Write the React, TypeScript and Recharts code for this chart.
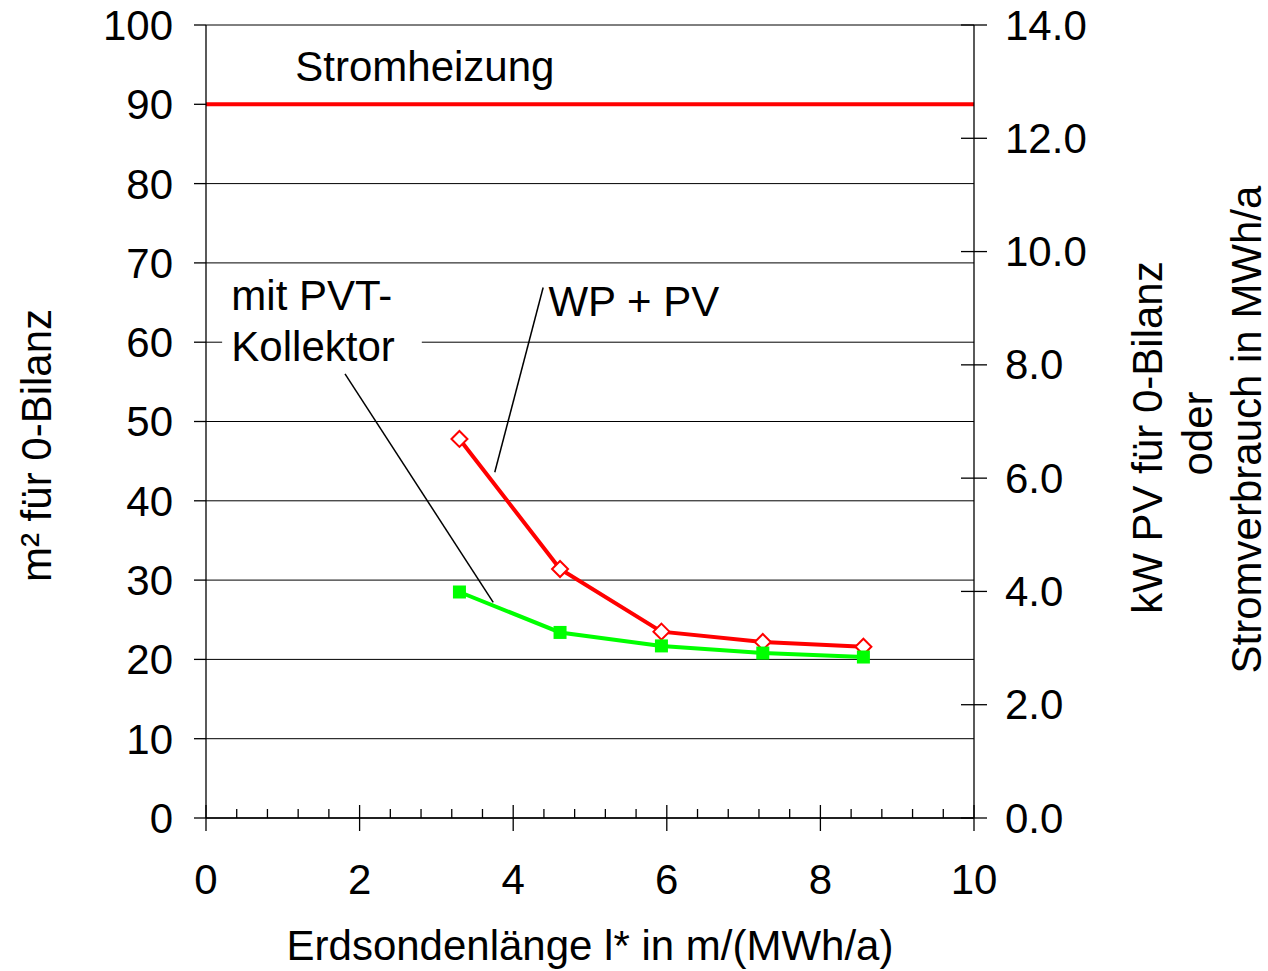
import {
  ComposedChart,
  Line,
  XAxis,
  YAxis,
  CartesianGrid,
  ReferenceLine,
  ReferenceDot,
  ReferenceArea,
  Label,
} from 'recharts';

// Erdsondenlänge l* in m/(MWh/a)
const LENGTHS = [3.3, 4.61, 5.93, 7.25, 8.56];
// m² für 0-Bilanz
const WP_PV = [47.8, 31.4, 23.5, 22.2, 21.6];
const PVT = [28.5, 23.4, 21.7, 20.8, 20.3];
const STROMHEIZUNG = 90;
const X_RANGE = [0, 10];

const X_TICKS = [0, 0.4, 0.8, 1.2, 1.6, 2, 2.4, 2.8, 3.2, 3.6, 4, 4.4, 4.8, 5.2, 5.6, 6, 6.4, 6.8, 7.2, 7.6, 8, 8.4, 8.8, 9.2, 9.6, 10];
const Y_TICKS = [0, 10, 20, 30, 40, 50, 60, 70, 80, 90, 100];
const Y2_TICKS = [0, 2, 4, 6, 8, 10, 12, 14];
const Y2_RANGE = [0, 14];

const wpPvData = LENGTHS.map((x, i) => ({ x, y: WP_PV[i] }));
const pvtData = LENGTHS.map((x, i) => ({ x, y: PVT[i] }));
const heizData = X_RANGE.map(x => ({ x, y: STROMHEIZUNG }));

const FONT = '"Liberation Sans", Arial, sans-serif';
const FS = 42;
const RED = '#ff0000';
const GREEN = '#00ff00';

// plot frame (margins + axis widths below)
const PLOT_LEFT = 206;
const PLOT_TOP = 25;
const PLOT_RIGHT = 974;
const PLOT_BOTTOM = 818;

function XTick({ payload }: any) {
  const x = payload.coordinate;
  const major = Math.abs(payload.value / 2 - Math.round(payload.value / 2)) < 1e-6;
  return (
    <g>
      <line
        x1={x}
        x2={x}
        y1={PLOT_BOTTOM - (major ? 13 : 9)}
        y2={PLOT_BOTTOM + (major ? 13 : 0)}
        stroke="#000"
        strokeWidth={1.3}
      />
      {major && (
        <text x={x} y={PLOT_BOTTOM + 61} textAnchor="middle" dominantBaseline="central" fontSize={FS} fill="#000">
          {payload.value}
        </text>
      )}
    </g>
  );
}

// right-hand scale, drawn from its own tick list and the plot height
function RightScale() {
  const h = PLOT_BOTTOM - PLOT_TOP;
  return (
    <g>
      {Y2_TICKS.map(v => {
        const y = PLOT_BOTTOM - (v - Y2_RANGE[0]) / (Y2_RANGE[1] - Y2_RANGE[0]) * h;
        return (
          <g key={v}>
            <line x1={PLOT_RIGHT - 13} x2={PLOT_RIGHT + 13} y1={y} y2={y} stroke="#000" strokeWidth={1.3} />
            <text x={PLOT_RIGHT + 31} y={y} dominantBaseline="central" fontSize={FS} fill="#000">
              {v.toFixed(1)}
            </text>
          </g>
        );
      })}
    </g>
  );
}

function Diamond(p: any) {
  const { cx, cy } = p;
  return (
    <path
      key={`dia-${p.index}`}
      d={`M${cx},${cy - 8}L${cx + 8},${cy}L${cx},${cy + 8}L${cx - 8},${cy}Z`}
      fill="#fff"
      stroke={RED}
      strokeWidth={2}
    />
  );
}

function Square(p: any) {
  const { cx, cy } = p;
  return <rect key={`sq-${p.index}`} x={cx - 6.5} y={cy - 6.5} width={13} height={13} fill={GREEN} />;
}

const vText = (x: number, y: number, s: string) => (
  <text
    key={s}
    x={x}
    y={y}
    transform={`rotate(-90 ${x} ${y})`}
    textAnchor="middle"
    dominantBaseline="central"
    fontSize={FS}
    fill="#000"
  >
    {s}
  </text>
);

const annot = (value: string, position: 'center' | 'right') => ({
  value,
  position,
  offset: 0,
  fontSize: FS,
  fill: '#000',
});

export default function App() {
  return (
    <div style={{ position: 'absolute', left: 0, top: 0, fontFamily: FONT, background: '#fff' }}>
      <ComposedChart width={1268} height={971} margin={{ top: PLOT_TOP, right: 0, bottom: 0, left: 8 }}>
        <CartesianGrid vertical={false} yAxisId="left" stroke="#000" strokeWidth={1} />
        <XAxis
          dataKey="x"
          type="number"
          domain={X_RANGE}
          ticks={X_TICKS}
          interval={0}
          allowDataOverflow
          height={153}
          stroke="#000"
          strokeWidth={1.3}
          tickLine={false}
          tick={<XTick />}
        >
          <Label
            content={(p: any) => {
              const vb = p.viewBox ?? { x: PLOT_LEFT, y: PLOT_BOTTOM, width: PLOT_RIGHT - PLOT_LEFT };
              return (
                <text x={vb.x + vb.width / 2} y={vb.y + 127} textAnchor="middle" dominantBaseline="central" fontSize={FS} fill="#000">
                  Erdsondenlänge l* in m/(MWh/a)
                </text>
              );
            }}
          />
        </XAxis>
        <YAxis
          yAxisId="left"
          type="number"
          domain={[0, 100]}
          ticks={Y_TICKS}
          interval={0}
          allowDataOverflow
          width={198}
          stroke="#000"
          strokeWidth={1.3}
          tickSize={12}
          tickMargin={21}
          tick={{ fontSize: FS, fill: '#000' }}
        >
          <Label
            content={(p: any) => {
              const vb = p.viewBox ?? { x: 8, y: PLOT_TOP, height: PLOT_BOTTOM - PLOT_TOP };
              return vText(vb.x + 28, vb.y + vb.height / 2 + 24, 'm² für 0-Bilanz');
            }}
          />
        </YAxis>
        <YAxis
          yAxisId="right"
          orientation="right"
          type="number"
          domain={Y2_RANGE}
          allowDataOverflow
          width={294}
          stroke="#000"
          strokeWidth={1.3}
          tickLine={false}
          tick={false}
        >
          <Label
            content={(p: any) => {
              const vb = p.viewBox ?? { x: PLOT_RIGHT, y: PLOT_TOP, height: PLOT_BOTTOM - PLOT_TOP };
              const cy = vb.y + vb.height / 2 + 12;
              return (
                <g>
                  <RightScale />
                  {vText(vb.x + 173, cy + 4, 'kW PV für 0-Bilanz')}
                  {vText(vb.x + 223, cy, 'oder')}
                  {vText(vb.x + 272, cy - 4, 'Stromverbrauch in MWh/a')}
                </g>
              );
            }}
          />
        </YAxis>

        {/* white box behind the PVT caption */}
        <ReferenceArea yAxisId="left" x1={0.21} x2={2.81} y1={57.4} y2={62.2} fill="#fff" fillOpacity={1} stroke="none" />

        {/* leader lines from captions to the curves */}
        <ReferenceLine
          yAxisId="left"
          segment={[{ x: 4.39, y: 66.9 }, { x: 3.76, y: 43.6 }]}
          stroke="#000"
          strokeWidth={1.5}
        />
        <ReferenceLine
          yAxisId="left"
          segment={[{ x: 1.81, y: 56.0 }, { x: 3.74, y: 27.2 }]}
          stroke="#000"
          strokeWidth={1.5}
        />

        <ReferenceDot yAxisId="left" x={2.85} y={94.8} r={0} stroke="none" label={annot('Stromheizung', 'center')} />
        <ReferenceDot yAxisId="left" x={5.57} y={65.2} r={0} stroke="none" label={annot('WP + PV', 'center')} />
        <ReferenceDot yAxisId="left" x={0.33} y={66.0} r={0} stroke="none" label={annot('mit PVT-', 'right')} />
        <ReferenceDot yAxisId="left" x={0.33} y={59.5} r={0} stroke="none" label={annot('Kollektor', 'right')} />

        <Line
          yAxisId="left"
          data={heizData}
          dataKey="y"
          type="linear"
          stroke={RED}
          strokeWidth={4}
          dot={false}
          isAnimationActive={false}
        />
        <Line
          yAxisId="left"
          data={wpPvData}
          dataKey="y"
          type="linear"
          stroke={RED}
          strokeWidth={4}
          dot={Diamond}
          isAnimationActive={false}
        />
        <Line
          yAxisId="left"
          data={pvtData}
          dataKey="y"
          type="linear"
          stroke={GREEN}
          strokeWidth={4}
          dot={Square}
          isAnimationActive={false}
        />
      </ComposedChart>
    </div>
  );
}
